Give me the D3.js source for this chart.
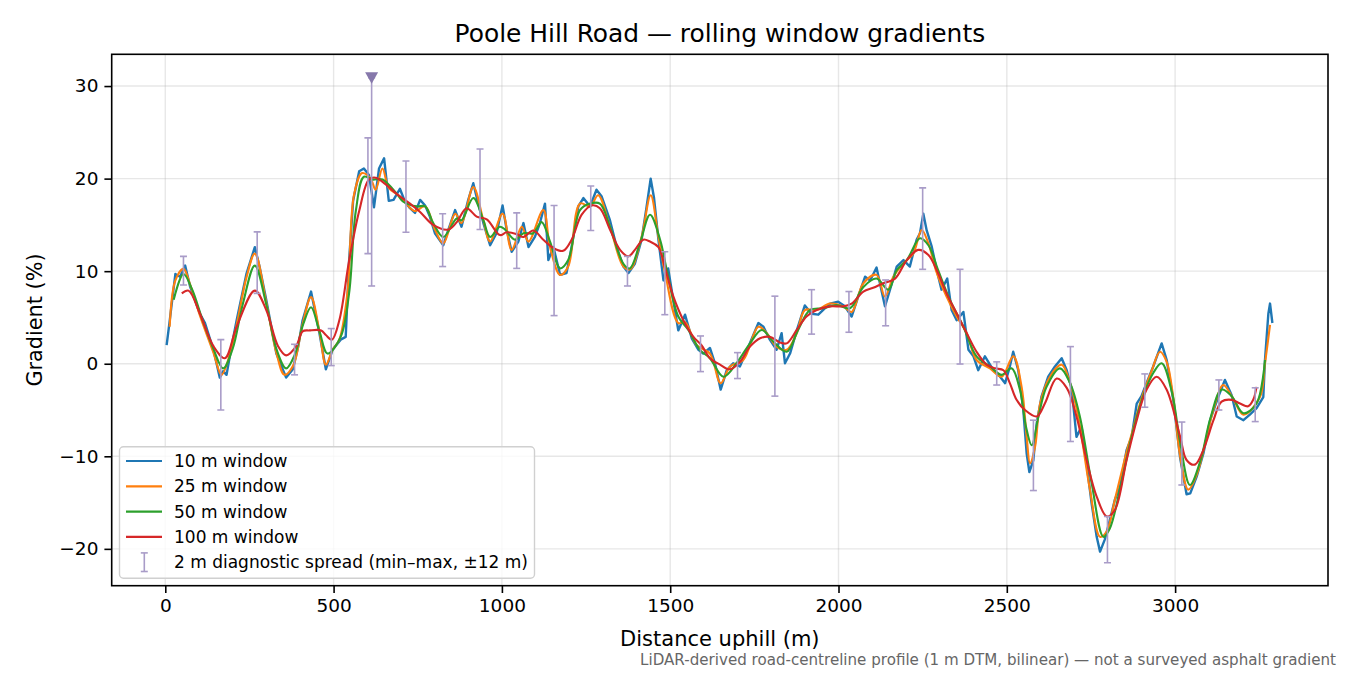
<!DOCTYPE html>
<html>
<head>
<meta charset="utf-8">
<script src="https://cdn.jsdelivr.net/npm/d3@7"></script>
<style>
  body { margin: 0; background: #fff; }
  svg { display: block; font-family: "DejaVu Sans", sans-serif; }
</style>
</head>
<body>
<svg id="chart" width="1350" height="675"></svg>
<script>
// ---------------- DATA ----------------
const titleText = "Poole Hill Road \u2014 rolling window gradients";
const xLabel = "Distance uphill (m)";
const yLabel = "Gradient (%)";
const footerText = "LiDAR-derived road-centreline profile (1 m DTM, bilinear) \u2014 not a surveyed asphalt gradient";
const xTicks = [0, 500, 1000, 1500, 2000, 2500, 3000];
const yTicks = [-20, -10, 0, 10, 20, 30];
const seriesNames = ["10 m window", "25 m window", "50 m window", "100 m window"];
const spreadName = "2 m diagnostic spread (min\u2013max, \u00b112 m)";

const dist10 = [4,13,30,44,59,74,103,118,143,162,172,182,197,212,241,266,280,300,315,330,359,379,395,408,433,458,477,497,521,536,546,558,576,590,605,620,635,650,664,678,697,712,727,742,757,772,786,801,826,841,861,880,900,915,927,945,965,984,1002,1014,1029,1049,1064,1079,1098,1113,1128,1138,1153,1173,1192,1207,1227,1242,1262,1281,1296,1321,1341,1361,1376,1395,1415,1430,1442,1452,1465,1480,1494,1509,1524,1544,1564,1584,1598,1618,1633,1650,1668,1687,1707,1732,1762,1777,1796,1816,1831,1841,1856,1876,1900,1920,1940,1960,1975,1999,2019,2039,2059,2079,2094,2113,2123,2138,2153,2173,2193,2212,2232,2242,2252,2262,2277,2292,2306,2323,2336,2351,2371,2386,2401,2415,2435,2460,2480,2495,2509,2519,2534,2549,2559,2567,2579,2589,2603,2623,2643,2663,2678,2693,2707,2722,2737,2752,2767,2777,2791,2806,2821,2836,2856,2871,2886,2900,2915,2935,2950,2960,2975,2995,3015,3034,3045,3064,3084,3104,3128,3148,3168,3183,3203,3222,3242,3262,3267,3277,3282,3289];
const grad10 = [2.0,4.6,9.7,9.4,10.6,8.3,5.4,4.4,1.5,-1.5,-0.8,-1.2,1.9,4.7,9.7,12.6,10.5,6.9,4.0,1.1,-1.5,-0.6,1.9,4.7,7.8,3.3,-0.6,1.5,2.6,2.9,11.1,17.6,20.8,21.1,20.4,16.9,21.1,22.2,17.6,17.7,18.9,17.5,16.8,16.3,17.7,17.1,15.9,14.1,12.8,14.5,16.6,14.8,17.7,19.5,17.7,15.2,12.8,14.1,17.1,14.5,12.1,13.2,15.2,12.6,13.7,15.2,17.3,11.2,12.6,9.6,9.8,12.6,17.0,17.9,17.0,18.8,18.1,15.5,12.6,10.5,9.8,10.8,13.4,17.0,20.0,17.9,13.4,9.0,10.3,6.9,3.6,5.3,2.75,1.5,1.1,1.7,0.05,-2.8,-0.7,0.05,-0.3,1.8,4.4,4.0,2.6,1.5,3.3,0.05,1.1,3.6,6.3,5.4,5.3,6.0,6.5,6.7,6.2,5.1,7.3,9.4,9.0,10.4,8.7,6.2,8.0,10.5,11.2,10.5,13.4,14.1,16.2,14.4,12.65,10.1,8.0,9.2,5.8,4.7,5.6,1.5,0.8,-0.7,0.8,-0.7,-1.4,-2.1,-0.3,1.3,-0.7,-5.0,-9.7,-11.7,-10.4,-6.4,-3.55,-1.4,-0.3,0.6,-0.7,-2.8,-7.9,-6.8,-10.8,-15.1,-18.7,-20.3,-19.0,-16.9,-14.7,-13.3,-9.3,-7.9,-4.3,-3.5,-2.1,-0.3,1.2,2.2,0.4,-4.0,-10.2,-14.1,-14.0,-12.2,-9.7,-6.1,-3.6,-1.75,-3.4,-5.7,-6.1,-5.5,-4.8,-3.6,0.4,5.4,6.5,4.4];

const dist25 = [13,30,54,75,103,143,167,190,212,241,266,300,330,354,380,408,433,458,477,497,517,541,561,585,610,625,645,664,689,707,740,772,801,826,861,880,915,945,965,1002,1029,1059,1079,1123,1143,1173,1197,1232,1262,1286,1321,1361,1381,1415,1442,1465,1485,1524,1544,1579,1618,1650,1678,1717,1762,1787,1816,1846,1876,1900,1935,1975,2014,2039,2074,2113,2138,2163,2193,2222,2247,2267,2292,2321,2351,2381,2410,2450,2485,2519,2544,2559,2569,2584,2599,2628,2663,2688,2712,2747,2777,2797,2821,2856,2871,2900,2930,2955,2975,2995,3015,3039,3064,3090,3115,3143,3170,3203,3252,3267,3282];
const grad25 = [4.0,9.0,10.25,8.4,5.2,1.2,-1.2,0.8,4.2,9.3,11.9,6.6,1.2,-1.2,-0.2,4.3,7.2,3.5,-0.1,1.5,2.6,7.6,18.3,20.6,20.0,18.8,21.1,19.0,18.3,17.7,16.5,17.0,14.5,13.0,16.2,15.2,19.1,15.5,13.2,16.2,12.3,14.8,13.2,16.6,12.6,9.6,10.5,17.3,17.0,18.2,14.8,10.5,10.2,13.7,18.2,13.7,9.8,4.4,4.5,2.0,1.1,-2.1,-0.3,0.4,4.0,3.3,1.85,1.5,3.3,5.8,5.8,6.5,6.2,5.6,8.7,9.6,7.25,9.4,10.85,11.9,14.45,13.0,9.8,7.25,5.1,3.3,0.4,-0.5,-1.4,0.8,-2.5,-7.9,-10.75,-8.95,-4.3,-1.4,-0.1,-2.1,-5.7,-13.6,-18.7,-18.1,-14.7,-9.5,-7.6,-3.8,-0.8,1.3,0.2,-3.8,-10.0,-13.6,-12.0,-8.5,-4.8,-2.3,-3.6,-5.5,-3.6,0.05,4.2];

const dist50 = [25,54,80,110,143,172,200,230,266,300,330,359,385,410,433,458,482,521,546,566,590,615,645,689,707,747,772,796,826,866,880,915,945,965,994,1009,1039,1064,1093,1118,1143,1173,1197,1232,1262,1291,1321,1361,1380,1410,1440,1470,1490,1524,1554,1588,1618,1658,1697,1737,1772,1806,1846,1880,1915,1955,1994,2034,2074,2113,2148,2173,2203,2242,2267,2296,2331,2371,2410,2450,2485,2514,2539,2557,2574,2594,2618,2658,2688,2717,2752,2787,2806,2836,2870,2905,2935,2960,2990,3015,3044,3075,3104,3138,3168,3203,3242,3267];
const grad50 = [6.9,9.7,8.0,4.8,1.6,-0.5,1.6,6.4,10.6,6.4,1.6,-0.5,1.0,4.3,6.1,3.5,1.1,2.9,7.6,16.5,20.2,19.9,19.9,18.3,17.5,17.0,17.0,15.2,13.7,15.7,15.5,17.9,15.5,13.7,14.8,14.5,13.4,14.1,14.1,15.3,13.2,10.3,11.2,16.6,17.3,17.3,14.8,10.8,10.3,13.0,16.1,13.4,10.1,5.1,3.65,1.5,0.6,-1.4,0.05,2.2,3.65,2.4,1.3,3.65,5.8,6.0,6.35,6.0,8.3,9.2,8.0,10.1,11.2,13.55,12.8,10.1,6.9,4.0,0.8,-0.3,-1.2,-0.5,-2.8,-6.8,-8.8,-5.7,-2.5,-0.5,-2.1,-5.7,-12.9,-18.7,-17.8,-13.6,-8.0,-3.5,-1.0,0.05,-3.0,-8.5,-13.1,-10.5,-6.0,-2.8,-3.5,-5.35,-4.3,0.4];

const dist100 = [49,69,103,143,177,212,266,300,335,359,389,408,428,463,477,495,517,546,576,605,625,654,689,727,757,796,841,866,895,925,955,994,1014,1044,1064,1093,1123,1153,1182,1207,1237,1267,1291,1321,1351,1376,1395,1420,1440,1465,1485,1509,1539,1569,1593,1618,1648,1678,1707,1737,1767,1796,1826,1846,1876,1905,1935,1975,2014,2039,2074,2103,2133,2168,2203,2237,2267,2292,2321,2351,2381,2410,2440,2465,2490,2509,2529,2554,2589,2613,2648,2678,2707,2737,2767,2797,2821,2856,2886,2915,2945,2975,3015,3034,3059,3084,3114,3138,3168,3193,3217,3232,3242];
const grad100 = [7.6,7.9,5.4,1.9,0.6,4.0,7.9,5.8,1.9,0.9,1.9,3.5,3.6,3.6,3.1,2.6,4.7,11.1,16.5,19.9,20.1,19.4,18.3,17.3,16.4,15.0,14.5,15.3,16.8,15.9,15.6,13.9,14.2,14.0,13.7,14.4,13.4,12.5,12.2,13.4,16.1,17.1,16.8,14.5,12.3,11.6,12.3,13.4,13.2,12.6,10.3,7.3,4.7,2.9,2.0,0.6,-0.1,-0.6,0.2,1.85,2.75,2.9,2.3,2.2,3.65,5.1,5.8,6.2,6.2,6.5,7.8,8.2,8.7,9.2,11.2,12.3,11.75,10.1,7.6,5.45,3.3,1.3,-0.1,-0.5,-0.7,-2.1,-3.9,-5.0,-5.7,-4.3,-1.6,-2.6,-5.7,-10.4,-14.35,-16.5,-15.8,-10.4,-6.1,-2.8,-1.4,-2.8,-7.9,-10.4,-10.9,-9.3,-6.1,-4.1,-3.9,-4.3,-4.6,-3.9,-2.5];

// 2 m diagnostic spread (min–max within ±12 m)
const spreadDist = [54,165,273,384,493,602,613,715,824,935,1044,1155,1264,1373,1484,1590,1700,1811,1920,2031,2140,2250,2361,2470,2579,2689,2799,2910,3020,3130,3238];
const spreadMax  = [11.6,2.6,14.25,2.1,3.8,24.4,30.9,21.9,16.2,23.2,16.3,17.1,19.2,11.6,12.1,3.0,1.2,7.3,8.0,7.8,9.05,19.0,10.2,0.2,-6.1,1.85,-16.5,-1.1,-6.3,-1.75,-2.6];
const spreadMin  = [8.5,-5.0,7.6,-1.2,-0.2,11.9,8.4,14.2,10.5,14.5,10.3,5.2,14.4,8.4,5.3,-0.85,-1.6,-3.5,3.2,3.4,4.1,10.2,-0.03,-2.3,-13.7,-8.4,-21.5,-4.7,-13.1,-5.0,-6.25];
// spread value that runs off the top of the axes
const clippedDist = [613];
const clippedGrad = [30.9];

// ---------------- LAYOUT ----------------
const W = 1350, H = 675;
const plot = { left: 111.7, right: 1328, top: 54.3, bottom: 585.7 };
const colors = ["#1f77b4", "#ff7f0e", "#2ca02c", "#d62728"];
const spreadColor = "#a99cc8";
const markerColor = "#8678ab";

const svg = d3.select("#chart");
svg.append("rect").attr("width", W).attr("height", H).attr("fill", "#fff");

const x = d3.scaleLinear().domain([-159.2, 3454.2]).range([plot.left, plot.right]);
const y = d3.scaleLinear().domain([-23.98, 33.43]).range([plot.bottom, plot.top]);

// clip
svg.append("clipPath").attr("id", "clip").append("rect")
  .attr("x", plot.left).attr("y", plot.top)
  .attr("width", plot.right - plot.left).attr("height", plot.bottom - plot.top);

// grid
const grid = svg.append("g");
xTicks.forEach(t => grid.append("line")
  .attr("x1", x(t)).attr("x2", x(t)).attr("y1", plot.top).attr("y2", plot.bottom)
  .attr("stroke", "#b0b0b0").attr("stroke-opacity", 0.3).attr("stroke-width", 1.4));
yTicks.forEach(t => grid.append("line")
  .attr("y1", y(t)).attr("y2", y(t)).attr("x1", plot.left).attr("x2", plot.right)
  .attr("stroke", "#b0b0b0").attr("stroke-opacity", 0.3).attr("stroke-width", 1.4));

// series
const series = [
  { d: dist10, g: grad10, curve: d3.curveLinear, w: 2.4 },
  { d: dist25, g: grad25, curve: d3.curveCatmullRom.alpha(0.5), w: 2.1 },
  { d: dist50, g: grad50, curve: d3.curveCatmullRom.alpha(0.5), w: 2.1 },
  { d: dist100, g: grad100, curve: d3.curveCatmullRom.alpha(0.5), w: 2.1 }
];
const lines = svg.append("g").attr("clip-path", "url(#clip)");
series.forEach((s, i) => {
  const pts = s.d.map((v, k) => [v, s.g[k]]);
  const gen = d3.line().x(p => x(p[0])).y(p => y(p[1])).curve(s.curve);
  lines.append("path").attr("d", gen(pts)).attr("fill", "none")
    .attr("stroke", colors[i]).attr("stroke-width", s.w)
    .attr("stroke-linejoin", "round").attr("stroke-linecap", "butt");
});

// spread error bars
const eb = svg.append("g").attr("clip-path", "url(#clip)");
const cap = 3.5;
spreadDist.forEach((d, i) => {
  const cx = x(d);
  eb.append("line").attr("x1", cx).attr("x2", cx)
    .attr("y1", y(spreadMax[i])).attr("y2", y(spreadMin[i]))
    .attr("stroke", spreadColor).attr("stroke-width", 1.6);
  [spreadMax[i], spreadMin[i]].forEach(v => eb.append("line")
    .attr("x1", cx - cap).attr("x2", cx + cap).attr("y1", y(v)).attr("y2", y(v))
    .attr("stroke", spreadColor).attr("stroke-width", 1.6));
});
clippedDist.forEach((d, i) => {
  const cx = x(d), cy = y(clippedGrad[i]);
  eb.append("path")
    .attr("d", `M${cx - 6.5},${cy - 5.5} L${cx + 6.5},${cy - 5.5} L${cx},${cy + 6} Z`)
    .attr("fill", markerColor);
});

// axes frame
svg.append("rect").attr("x", plot.left).attr("y", plot.top)
  .attr("width", plot.right - plot.left).attr("height", plot.bottom - plot.top)
  .attr("fill", "none").attr("stroke", "#000").attr("stroke-width", 1.6);

// axes via d3
const fmt = v => (v < 0 ? "\u2212" + Math.abs(v) : String(v));
const xAxis = d3.axisBottom(x).tickValues(xTicks).tickFormat(fmt).tickSizeOuter(0).tickSize(7.3).tickPadding(6);
const yAxis = d3.axisLeft(y).tickValues(yTicks).tickFormat(fmt).tickSizeOuter(0).tickSize(7.3).tickPadding(6);
const gx = svg.append("g").attr("transform", `translate(0,${plot.bottom})`).call(xAxis);
const gy = svg.append("g").attr("transform", `translate(${plot.left},0)`).call(yAxis);
[gx, gy].forEach(g => {
  g.select(".domain").remove();
  g.selectAll(".tick line").attr("stroke", "#000").attr("stroke-width", 1.6);
  g.selectAll(".tick text").attr("fill", "#000").style("font-size", "18.5px")
    .style("font-family", "DejaVu Sans, sans-serif");
});

// labels
svg.append("text").attr("x", (plot.left + plot.right) / 2).attr("y", 42)
  .attr("text-anchor", "middle").style("font-size", "24.9px").attr("fill", "#000").text(titleText);
svg.append("text").attr("x", (plot.left + plot.right) / 2).attr("y", 646)
  .attr("text-anchor", "middle").style("font-size", "21px").attr("fill", "#000").text(xLabel);
svg.append("text").attr("transform", `translate(42,${(plot.top + plot.bottom) / 2}) rotate(-90)`)
  .attr("text-anchor", "middle").style("font-size", "20.8px").attr("fill", "#000").text(yLabel);
svg.append("text").attr("x", 1336).attr("y", 665)
  .attr("text-anchor", "end").style("font-size", "15.1px").attr("fill", "#666").text(footerText);

// legend
const lg = svg.append("g");
lg.append("rect").attr("x", 119.5).attr("y", 446.7).attr("width", 415).attr("height", 131.6)
  .attr("rx", 4).attr("fill", "#fff").attr("fill-opacity", 0.8)
  .attr("stroke", "#d0d0d0").attr("stroke-width", 1.4);
const rowY = [461, 486.3, 511.6, 536.9, 562.2];
seriesNames.forEach((n, i) => {
  lg.append("line").attr("x1", 126).attr("x2", 162).attr("y1", rowY[i]).attr("y2", rowY[i])
    .attr("stroke", colors[i]).attr("stroke-width", 2.2);
  lg.append("text").attr("x", 174).attr("y", rowY[i] + 6).style("font-size", "17px")
    .attr("fill", "#000").text(n);
});
const ey = rowY[4];
lg.append("line").attr("x1", 144.3).attr("x2", 144.3).attr("y1", ey - 9.3).attr("y2", ey + 9.3)
  .attr("stroke", spreadColor).attr("stroke-width", 1.6);
[ey - 9.3, ey + 9.3].forEach(v => lg.append("line").attr("x1", 144.3 - cap).attr("x2", 144.3 + cap)
  .attr("y1", v).attr("y2", v).attr("stroke", spreadColor).attr("stroke-width", 1.6));
lg.append("text").attr("x", 174).attr("y", ey + 6).style("font-size", "17px")
  .attr("fill", "#000").text(spreadName);
</script>
</body>
</html>
